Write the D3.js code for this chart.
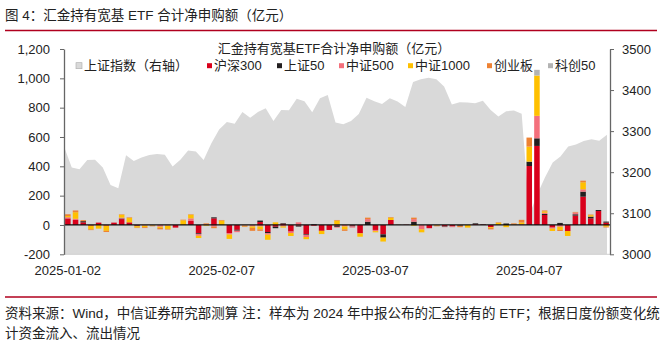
<!DOCTYPE html>
<html><head><meta charset="utf-8">
<script src="https://cdn.jsdelivr.net/npm/d3@7"></script>
<style>
body{margin:0;background:#fff;}
svg{display:block;font-family:"Liberation Sans","Noto Sans CJK SC",sans-serif;}
</style></head><body>
<svg id="c" width="661" height="343"></svg>
<script>
// ---- data ----
const dates = ["2025-01-02","2025-01-03","2025-01-06","2025-01-07","2025-01-08","2025-01-09","2025-01-10","2025-01-13","2025-01-14","2025-01-15","2025-01-16","2025-01-17","2025-01-20","2025-01-21","2025-01-22","2025-01-23","2025-01-24","2025-01-27","2025-02-05","2025-02-06","2025-02-07","2025-02-10","2025-02-11","2025-02-12","2025-02-13","2025-02-14","2025-02-17","2025-02-18","2025-02-19","2025-02-20","2025-02-21","2025-02-24","2025-02-25","2025-02-26","2025-02-27","2025-02-28","2025-03-03","2025-03-04","2025-03-05","2025-03-06","2025-03-07","2025-03-10","2025-03-11","2025-03-12","2025-03-13","2025-03-14","2025-03-17","2025-03-18","2025-03-19","2025-03-20","2025-03-21","2025-03-24","2025-03-25","2025-03-26","2025-03-27","2025-03-28","2025-03-31","2025-04-01","2025-04-02","2025-04-03","2025-04-07","2025-04-08","2025-04-09","2025-04-10","2025-04-11","2025-04-14","2025-04-15","2025-04-16","2025-04-17","2025-04-18","2025-04-21"];
const shIndex = [3262.56,3211.43,3206.92,3229.64,3230.17,3211.39,3168.52,3160.76,3240.94,3227.12,3236.03,3241.82,3244.38,3242.62,3213.62,3230.16,3252.63,3250.60,3229.49,3270.66,3303.67,3322.17,3318.06,3346.39,3332.48,3346.72,3355.83,3324.49,3351.54,3350.78,3379.11,3373.03,3346.04,3380.21,3388.06,3320.90,3316.93,3324.49,3341.96,3381.10,3372.55,3366.16,3379.83,3371.92,3358.73,3419.56,3426.43,3429.76,3426.43,3408.95,3364.83,3370.03,3369.98,3368.07,3373.75,3351.31,3335.75,3348.44,3350.13,3342.01,3096.58,3145.55,3186.81,3223.64,3238.23,3262.81,3267.66,3276.00,3280.34,3276.73,3291.43];
const hs300  = [45,34,18,-5,16,-5,16,40,18,-5,0,0,0,0,-18,0,27,-57,0,45,0,-55,-33,0,0,20,-48,-12,8,-45,-5,-62,-5,-40,-34,-5,0,-5,-57,0,-34,-64,34,0,2,0,0,-22,0,-8,-10,0,0,5,3,-15,0,0,0,0,402,539,68,-18,0,-41,64,193,45,95,16];
const sz50   = [0,0,8,0,0,0,0,4,0,-3,0,0,0,0,0,0,0,-5,0,7,0,0,-6,0,0,10,-8,-10,4,0,-6,-5,5,0,0,-8,0,-5,0,22,0,-22,0,0,0,22,0,0,0,-4,0,-5,0,6,2,0,0,10,0,0,30,52,7,0,14,0,9,34,12,7,7];
const zz500  = [8,8,0,0,0,0,0,6,0,0,-5,0,-12,-5,0,0,18,-12,5,-12,0,-10,-10,-5,-10,-10,-10,0,-10,-10,18,-15,0,0,0,-5,-10,-8,0,18,-8,0,0,0,0,18,-30,0,0,-3,-5,0,0,0,0,0,0,0,0,5,0,153,8,-7,-12,0,12,16,0,0,0];
const zz1000 = [8,45,0,-25,-25,-35,0,20,30,-10,-10,-4,-8,-22,0,32,25,-15,-5,0,30,-30,0,-5,-10,-20,-35,18,-8,-20,0,-15,0,-22,0,30,-20,0,-23,0,-8,-27,16,0,0,-5,-20,0,-4,0,0,0,-18,0,0,-6,15,-15,3,12,102,275,10,-16,-22,-34,0,48,10,0,-12];
const cyb    = [12,12,7,-5,0,-8,0,3,4,-3,-6,-5,-10,-4,0,4,3,0,6,-10,4,0,0,-4,-20,-10,0,0,0,0,0,0,0,0,0,4,-10,0,0,10,0,0,4,2,0,10,0,0,-5,0,0,-10,0,0,0,-9,3,0,8,18,62,0,6,0,-7,0,4,11,4,0,-5];
const kc50   = [0,0,0,0,0,0,0,0,0,0,0,0,0,0,0,0,0,0,0,0,0,0,0,0,0,0,0,0,0,0,0,0,0,0,0,0,0,0,0,0,0,0,0,0,0,0,0,0,0,0,0,0,0,0,0,0,0,0,0,0,0,39,0,0,0,0,0,0,0,0,0];
const seriesNames = ["沪深300","上证50","中证500","中证1000","创业板","科创50"];
const seriesColors = ["#d9001b","#231f20","#f4707c","#ffc000","#ee8233","#b3b3b3"];
const leftTicks = [-200,0,200,400,600,800,1000,1200];
const rightTicks = [3000,3100,3200,3300,3400,3500];
const xTickDates = ["2025-01-02","2025-02-07","2025-03-07","2025-04-07"];
const titleText = "图 4：汇金持有宽基 ETF 合计净申购额（亿元）";
const chartTitle = "汇金持有宽基ETF合计净申购额（亿元）";
const areaName = "上证指数（右轴）";
const note1 = "资料来源：Wind，中信证券研究部测算 注：样本为 2024 年中报公布的汇金持有的 ETF；根据日度份额变化统";
const note2 = "计资金流入、流出情况";

// ---- build ----
const svg = d3.select("#c");
const L = 64, R = 610, T = 49, B = 254.3;
const seriesData = [hs300, sz50, zz500, zz1000, cyb, kc50];
const rows = dates.map((d,i)=>{const o={date:d}; seriesNames.forEach((n,k)=>o[n]=seriesData[k][i]); return o;});

const xBand = d3.scaleBand().domain(dates).range([L,R]).paddingInner(0.28).paddingOuter(0.14);
const xPt = d3.scalePoint().domain(dates).range([L,607]);
const yL = d3.scaleLinear().domain([-200,1200]).range([B,T]);
const yR = d3.scaleLinear().domain([3000,3500]).range([B,T]);

// area
const area = d3.area().x((d,i)=>xPt(dates[i])).y0(yR(3000)).y1(d=>yR(d));
svg.append("path").datum(shIndex).attr("d",area).attr("fill","#d9d9d9");

// bars
const stack = d3.stack().keys(seriesNames).offset(d3.stackOffsetDiverging);
const stacked = stack(rows);
svg.append("g").selectAll("g").data(stacked).join("g")
  .attr("fill",(d,i)=>seriesColors[i])
  .selectAll("rect").data(d=>d).join("rect")
  .attr("x",d=>xBand(d.data.date))
  .attr("width",xBand.bandwidth())
  .attr("y",d=>yL(Math.max(d[0],d[1])))
  .attr("height",d=>Math.abs(yL(d[0])-yL(d[1])));

// zero line
svg.append("line").attr("x1",L).attr("x2",R).attr("y1",yL(0)).attr("y2",yL(0))
  .attr("stroke","#111").attr("stroke-width",1.2);
// bottom line
svg.append("line").attr("x1",L).attr("x2",R).attr("y1",B).attr("y2",B)
  .attr("stroke","#d0d0d0").attr("stroke-width",1);

const fmt = d=>d3.format(",")(d).replace("−","-");
const gL = svg.append("g").attr("transform",`translate(${L},0)`)
  .call(d3.axisLeft(yL).tickValues(leftTicks).tickFormat(fmt).tickSize(4).tickPadding(10).tickSizeOuter(0));
const gR = svg.append("g").attr("transform",`translate(${R},0)`)
  .call(d3.axisRight(yR).tickValues(rightTicks).tickFormat(d3.format("d")).tickSize(4).tickPadding(8).tickSizeOuter(0));
[gL,gR].forEach(g=>{
  g.select(".domain").attr("stroke","#666").attr("stroke-width",1.3);
  g.selectAll(".tick line").attr("stroke","#666");
  g.selectAll(".tick text").attr("font-size",13).attr("fill","#222").attr("font-family","Liberation Sans, Arial, sans-serif");
});

// x labels
svg.append("g").selectAll("text").data(xTickDates).join("text")
  .attr("x",d=>xBand(d)+xBand.bandwidth()/2).attr("y",274.5)
  .attr("text-anchor","middle").attr("font-size",13).attr("fill","#222").text(d=>d);

// titles
svg.append("text").attr("x",5).attr("y",19.5).attr("font-size",13.5).attr("fill","#222").text(titleText);
svg.append("line").attr("x1",5).attr("x2",657).attr("y1",30.5).attr("y2",30.5).attr("stroke","#b0001e").attr("stroke-width",1.3);
svg.append("text").attr("x",334).attr("y",52.5).attr("text-anchor","middle").attr("font-size",13).attr("fill","#222").text(chartTitle);

// legend
const legY = 65.7;
const lg = svg.append("g");
lg.append("rect").attr("x",76).attr("y",legY-3).attr("width",6).attr("height",6).attr("fill","#d9d9d9").attr("stroke","#aaa").attr("stroke-width",0.6);
lg.append("text").attr("x",84).attr("y",legY+4.5).attr("font-size",13).attr("fill","#222").text(areaName);
const legX = [207,277,339,408,487,548];
seriesNames.forEach((n,k)=>{
  lg.append("rect").attr("x",legX[k]).attr("y",legY-2.5).attr("width",5).attr("height",5).attr("fill",seriesColors[k]);
  lg.append("text").attr("x",legX[k]+7).attr("y",legY+4.5).attr("font-size",13).attr("fill","#222").text(n);
});

// footer
svg.append("line").attr("x1",5).attr("x2",657).attr("y1",297).attr("y2",297).attr("stroke","#b0001e").attr("stroke-width",1.3);
svg.append("text").attr("x",5).attr("y",317.5).attr("font-size",13.5).attr("fill","#222").text(note1);
svg.append("text").attr("x",5).attr("y",337.5).attr("font-size",13.5).attr("fill","#222").text(note2);
</script>
</body></html>
